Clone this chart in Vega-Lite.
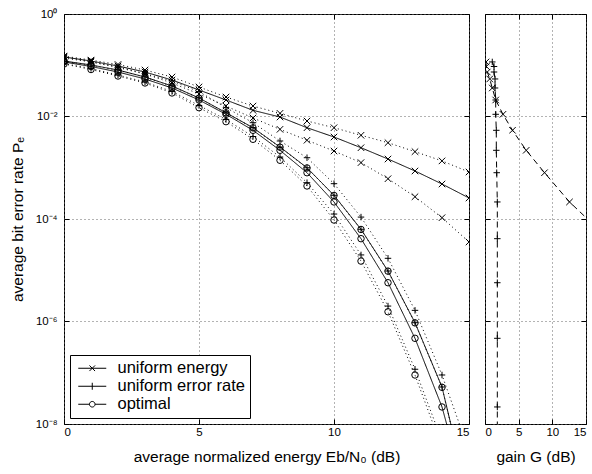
{
 "$schema": "https://vega.github.io/schema/vega-lite/v6.json",
 "padding": {"left": 9, "top": 7, "right": 0, "bottom": 5},
 "background": "white",
 "config": {
  "font": "Liberation Sans",
  "view": {"stroke": "black", "strokeWidth": 1},
  "axis": {"domain": false, "grid": true, "gridColor": "#666", "gridDash": [1, 3], "gridWidth": 1, "tickColor": "black", "tickSize": -5, "labelFont": "Liberation Sans", "labelFontSize": 11.5, "labelColor": "black", "titleFont": "Liberation Sans", "titleFontSize": 15.5, "titleFontWeight": "normal", "titleColor": "black"}
 },
 "datasets": {
  "ber": [
   {"scheme": "uniform energy", "curve": "mean", "x": 0, "p": 0.145},
   {"scheme": "uniform energy", "curve": "mean", "x": 1, "p": 0.121},
   {"scheme": "uniform energy", "curve": "mean", "x": 2, "p": 0.0966},
   {"scheme": "uniform energy", "curve": "mean", "x": 3, "p": 0.0738},
   {"scheme": "uniform energy", "curve": "mean", "x": 4, "p": 0.0515},
   {"scheme": "uniform energy", "curve": "mean", "x": 5, "p": 0.0329},
   {"scheme": "uniform energy", "curve": "mean", "x": 6, "p": 0.021},
   {"scheme": "uniform energy", "curve": "mean", "x": 7, "p": 0.0132},
   {"scheme": "uniform energy", "curve": "mean", "x": 8, "p": 0.00977},
   {"scheme": "uniform energy", "curve": "mean", "x": 9, "p": 0.00604},
   {"scheme": "uniform energy", "curve": "mean", "x": 10, "p": 0.00398},
   {"scheme": "uniform energy", "curve": "mean", "x": 11, "p": 0.00246},
   {"scheme": "uniform energy", "curve": "mean", "x": 12, "p": 0.00148},
   {"scheme": "uniform energy", "curve": "mean", "x": 13, "p": 0.000865},
   {"scheme": "uniform energy", "curve": "mean", "x": 14, "p": 0.000482},
   {"scheme": "uniform energy", "curve": "mean", "x": 15, "p": 0.000257},
   {"scheme": "uniform energy", "curve": "upper", "x": 0, "p": 0.151},
   {"scheme": "uniform energy", "curve": "upper", "x": 1, "p": 0.126},
   {"scheme": "uniform energy", "curve": "upper", "x": 2, "p": 0.1035},
   {"scheme": "uniform energy", "curve": "upper", "x": 3, "p": 0.0807},
   {"scheme": "uniform energy", "curve": "upper", "x": 4, "p": 0.059},
   {"scheme": "uniform energy", "curve": "upper", "x": 5, "p": 0.0377},
   {"scheme": "uniform energy", "curve": "upper", "x": 6, "p": 0.024},
   {"scheme": "uniform energy", "curve": "upper", "x": 7, "p": 0.016},
   {"scheme": "uniform energy", "curve": "upper", "x": 8, "p": 0.01153},
   {"scheme": "uniform energy", "curve": "upper", "x": 9, "p": 0.00817},
   {"scheme": "uniform energy", "curve": "upper", "x": 10, "p": 0.00604},
   {"scheme": "uniform energy", "curve": "upper", "x": 11, "p": 0.0043},
   {"scheme": "uniform energy", "curve": "upper", "x": 12, "p": 0.00308},
   {"scheme": "uniform energy", "curve": "upper", "x": 13, "p": 0.00206},
   {"scheme": "uniform energy", "curve": "upper", "x": 14, "p": 0.00136},
   {"scheme": "uniform energy", "curve": "upper", "x": 15, "p": 0.000826},
   {"scheme": "uniform energy", "curve": "lower", "x": 0, "p": 0.138},
   {"scheme": "uniform energy", "curve": "lower", "x": 1, "p": 0.116},
   {"scheme": "uniform energy", "curve": "lower", "x": 2, "p": 0.0904},
   {"scheme": "uniform energy", "curve": "lower", "x": 3, "p": 0.0675},
   {"scheme": "uniform energy", "curve": "lower", "x": 4, "p": 0.0451},
   {"scheme": "uniform energy", "curve": "lower", "x": 5, "p": 0.0275},
   {"scheme": "uniform energy", "curve": "lower", "x": 6, "p": 0.016},
   {"scheme": "uniform energy", "curve": "lower", "x": 7, "p": 0.00935},
   {"scheme": "uniform energy", "curve": "lower", "x": 8, "p": 0.00562},
   {"scheme": "uniform energy", "curve": "lower", "x": 9, "p": 0.00344},
   {"scheme": "uniform energy", "curve": "lower", "x": 10, "p": 0.00212},
   {"scheme": "uniform energy", "curve": "lower", "x": 11, "p": 0.00126},
   {"scheme": "uniform energy", "curve": "lower", "x": 12, "p": 0.000611},
   {"scheme": "uniform energy", "curve": "lower", "x": 13, "p": 0.000272},
   {"scheme": "uniform energy", "curve": "lower", "x": 14, "p": 0.000106},
   {"scheme": "uniform energy", "curve": "lower", "x": 15, "p": 0.0000356},
   {"scheme": "uniform error rate", "curve": "mean", "x": 0, "p": 0.121},
   {"scheme": "uniform error rate", "curve": "mean", "x": 1, "p": 0.1012},
   {"scheme": "uniform error rate", "curve": "mean", "x": 2, "p": 0.0807},
   {"scheme": "uniform error rate", "curve": "mean", "x": 3, "p": 0.059},
   {"scheme": "uniform error rate", "curve": "mean", "x": 4, "p": 0.0394},
   {"scheme": "uniform error rate", "curve": "mean", "x": 5, "p": 0.023},
   {"scheme": "uniform error rate", "curve": "mean", "x": 6, "p": 0.01186},
   {"scheme": "uniform error rate", "curve": "mean", "x": 7, "p": 0.00604},
   {"scheme": "uniform error rate", "curve": "mean", "x": 8, "p": 0.00254},
   {"scheme": "uniform error rate", "curve": "mean", "x": 9, "p": 0.001},
   {"scheme": "uniform error rate", "curve": "mean", "x": 10, "p": 0.00029},
   {"scheme": "uniform error rate", "curve": "mean", "x": 11, "p": 0.000063},
   {"scheme": "uniform error rate", "curve": "mean", "x": 12, "p": 0.00000966},
   {"scheme": "uniform error rate", "curve": "mean", "x": 13, "p": 0.000000948},
   {"scheme": "uniform error rate", "curve": "mean", "x": 14, "p": 0.0000000527},
   {"scheme": "uniform error rate", "curve": "mean", "x": 15, "p": 0.000000000315},
   {"scheme": "uniform error rate", "curve": "upper", "x": 0, "p": 0.147},
   {"scheme": "uniform error rate", "curve": "upper", "x": 1, "p": 0.117},
   {"scheme": "uniform error rate", "curve": "upper", "x": 2, "p": 0.0925},
   {"scheme": "uniform error rate", "curve": "upper", "x": 3, "p": 0.0684},
   {"scheme": "uniform error rate", "curve": "upper", "x": 4, "p": 0.0493},
   {"scheme": "uniform error rate", "curve": "upper", "x": 5, "p": 0.0305},
   {"scheme": "uniform error rate", "curve": "upper", "x": 6, "p": 0.01486},
   {"scheme": "uniform error rate", "curve": "upper", "x": 7, "p": 0.00757},
   {"scheme": "uniform error rate", "curve": "upper", "x": 8, "p": 0.00333},
   {"scheme": "uniform error rate", "curve": "upper", "x": 9, "p": 0.00157},
   {"scheme": "uniform error rate", "curve": "upper", "x": 10, "p": 0.000489},
   {"scheme": "uniform error rate", "curve": "upper", "x": 11, "p": 0.000109},
   {"scheme": "uniform error rate", "curve": "upper", "x": 12, "p": 0.0000171},
   {"scheme": "uniform error rate", "curve": "upper", "x": 13, "p": 0.00000165},
   {"scheme": "uniform error rate", "curve": "upper", "x": 14, "p": 0.0000000904},
   {"scheme": "uniform error rate", "curve": "upper", "x": 15, "p": 0.00000000297},
   {"scheme": "uniform error rate", "curve": "lower", "x": 0, "p": 0.108},
   {"scheme": "uniform error rate", "curve": "lower", "x": 1, "p": 0.0865},
   {"scheme": "uniform error rate", "curve": "lower", "x": 2, "p": 0.0646},
   {"scheme": "uniform error rate", "curve": "lower", "x": 3, "p": 0.0471},
   {"scheme": "uniform error rate", "curve": "lower", "x": 4, "p": 0.0308},
   {"scheme": "uniform error rate", "curve": "lower", "x": 5, "p": 0.0164},
   {"scheme": "uniform error rate", "curve": "lower", "x": 6, "p": 0.00873},
   {"scheme": "uniform error rate", "curve": "lower", "x": 7, "p": 0.00407},
   {"scheme": "uniform error rate", "curve": "lower", "x": 8, "p": 0.00162},
   {"scheme": "uniform error rate", "curve": "lower", "x": 9, "p": 0.000511},
   {"scheme": "uniform error rate", "curve": "lower", "x": 10, "p": 0.000125},
   {"scheme": "uniform error rate", "curve": "lower", "x": 11, "p": 0.0000199},
   {"scheme": "uniform error rate", "curve": "lower", "x": 12, "p": 0.000002},
   {"scheme": "uniform error rate", "curve": "lower", "x": 13, "p": 0.000000117},
   {"scheme": "uniform error rate", "curve": "lower", "x": 14, "p": 0.00000000466},
   {"scheme": "uniform error rate", "curve": "lower", "x": 15, "p": 0.000000000102},
   {"scheme": "optimal", "curve": "mean", "x": 0, "p": 0.116},
   {"scheme": "optimal", "curve": "mean", "x": 1, "p": 0.0946},
   {"scheme": "optimal", "curve": "mean", "x": 2, "p": 0.0738},
   {"scheme": "optimal", "curve": "mean", "x": 3, "p": 0.054},
   {"scheme": "optimal", "curve": "mean", "x": 4, "p": 0.036},
   {"scheme": "optimal", "curve": "mean", "x": 5, "p": 0.021},
   {"scheme": "optimal", "curve": "mean", "x": 6, "p": 0.01104},
   {"scheme": "optimal", "curve": "mean", "x": 7, "p": 0.00538},
   {"scheme": "optimal", "curve": "mean", "x": 8, "p": 0.00219},
   {"scheme": "optimal", "curve": "mean", "x": 9, "p": 0.0008},
   {"scheme": "optimal", "curve": "mean", "x": 10, "p": 0.000215},
   {"scheme": "optimal", "curve": "mean", "x": 11, "p": 0.0000413},
   {"scheme": "optimal", "curve": "mean", "x": 12, "p": 0.00000571},
   {"scheme": "optimal", "curve": "mean", "x": 13, "p": 0.00000047},
   {"scheme": "optimal", "curve": "mean", "x": 14, "p": 0.0000000215},
   {"scheme": "optimal", "curve": "mean", "x": 15, "p": 0.000000000251},
   {"scheme": "optimal", "curve": "upper", "x": 0, "p": 0.12},
   {"scheme": "optimal", "curve": "upper", "x": 1, "p": 0.1},
   {"scheme": "optimal", "curve": "upper", "x": 2, "p": 0.08},
   {"scheme": "optimal", "curve": "upper", "x": 3, "p": 0.0585},
   {"scheme": "optimal", "curve": "upper", "x": 4, "p": 0.039},
   {"scheme": "optimal", "curve": "upper", "x": 5, "p": 0.0228},
   {"scheme": "optimal", "curve": "upper", "x": 6, "p": 0.0118},
   {"scheme": "optimal", "curve": "upper", "x": 7, "p": 0.006},
   {"scheme": "optimal", "curve": "upper", "x": 8, "p": 0.00252},
   {"scheme": "optimal", "curve": "upper", "x": 9, "p": 0.00099},
   {"scheme": "optimal", "curve": "upper", "x": 10, "p": 0.000288},
   {"scheme": "optimal", "curve": "upper", "x": 11, "p": 0.0000625},
   {"scheme": "optimal", "curve": "upper", "x": 12, "p": 0.0000096},
   {"scheme": "optimal", "curve": "upper", "x": 13, "p": 0.00000094},
   {"scheme": "optimal", "curve": "upper", "x": 14, "p": 0.000000052},
   {"scheme": "optimal", "curve": "upper", "x": 15, "p": 0.00000000031},
   {"scheme": "optimal", "curve": "lower", "x": 0, "p": 0.106},
   {"scheme": "optimal", "curve": "lower", "x": 1, "p": 0.0826},
   {"scheme": "optimal", "curve": "lower", "x": 2, "p": 0.0617},
   {"scheme": "optimal", "curve": "lower", "x": 3, "p": 0.0451},
   {"scheme": "optimal", "curve": "lower", "x": 4, "p": 0.0288},
   {"scheme": "optimal", "curve": "lower", "x": 5, "p": 0.01486},
   {"scheme": "optimal", "curve": "lower", "x": 6, "p": 0.00793},
   {"scheme": "optimal", "curve": "lower", "x": 7, "p": 0.00359},
   {"scheme": "optimal", "curve": "lower", "x": 8, "p": 0.0014},
   {"scheme": "optimal", "curve": "lower", "x": 9, "p": 0.000441},
   {"scheme": "optimal", "curve": "lower", "x": 10, "p": 0.0000955},
   {"scheme": "optimal", "curve": "lower", "x": 11, "p": 0.0000151},
   {"scheme": "optimal", "curve": "lower", "x": 12, "p": 0.00000155},
   {"scheme": "optimal", "curve": "lower", "x": 13, "p": 0.0000000904},
   {"scheme": "optimal", "curve": "lower", "x": 14, "p": 0.0000000034},
   {"scheme": "optimal", "curve": "lower", "x": 15, "p": 0.0000000000817}
  ],
  "gain": [
   {"versus": "uniform energy", "g": 0.15, "p": 0.116},
   {"versus": "uniform energy", "g": 0.2, "p": 0.0946},
   {"versus": "uniform energy", "g": 0.34, "p": 0.0738},
   {"versus": "uniform energy", "g": 0.7, "p": 0.054},
   {"versus": "uniform energy", "g": 1.08, "p": 0.036},
   {"versus": "uniform energy", "g": 1.59, "p": 0.021},
   {"versus": "uniform energy", "g": 2.67, "p": 0.01104},
   {"versus": "uniform energy", "g": 4.08, "p": 0.00538},
   {"versus": "uniform energy", "g": 6.12, "p": 0.00219},
   {"versus": "uniform energy", "g": 8.84, "p": 0.0008},
   {"versus": "uniform energy", "g": 12.55, "p": 0.000215},
   {"versus": "uniform energy", "g": 18.3, "p": 0.0000413},
   {"versus": "uniform error rate", "g": 1.08, "p": 0.116},
   {"versus": "uniform error rate", "g": 1.34, "p": 0.0946},
   {"versus": "uniform error rate", "g": 1.34, "p": 0.0738},
   {"versus": "uniform error rate", "g": 1.49, "p": 0.054},
   {"versus": "uniform error rate", "g": 1.49, "p": 0.036},
   {"versus": "uniform error rate", "g": 1.59, "p": 0.021},
   {"versus": "uniform error rate", "g": 1.59, "p": 0.01104},
   {"versus": "uniform error rate", "g": 1.68, "p": 0.00538},
   {"versus": "uniform error rate", "g": 1.68, "p": 0.00219},
   {"versus": "uniform error rate", "g": 1.74, "p": 0.0008},
   {"versus": "uniform error rate", "g": 1.83, "p": 0.000215},
   {"versus": "uniform error rate", "g": 1.83, "p": 0.0000413},
   {"versus": "uniform error rate", "g": 1.83, "p": 0.00000571},
   {"versus": "uniform error rate", "g": 1.83, "p": 0.00000047},
   {"versus": "uniform error rate", "g": 1.83, "p": 0.0000000215},
   {"versus": "uniform error rate", "g": 1.83, "p": 0.000000000251}
  ]
 },
 "spacing": 14,
 "hconcat": [
  {
   "width": 405,
   "height": 410,
   "data": {"name": "ber"},
   "layer": [
    {
     "mark": {"type": "line", "clip": true, "color": "black", "strokeWidth": 1},
     "encoding": {
      "x": {"field": "x", "type": "quantitative", "scale": {"domain": [0, 15], "nice": false}, "axis": {"values": [0, 5, 10, 15], "title": "average normalized energy Eb/N₀ (dB)", "labelPadding": 7, "titlePadding": 12}},
      "y": {"field": "p", "type": "quantitative", "scale": {"type": "log", "domain": [1e-8, 1], "nice": false}, "axis": {"values": [1e-8, 1e-6, 1e-4, 1e-2, 1], "labelExpr": "datum.value > 0.5 ? '10⁰' : datum.value > 0.005 ? '10⁻²' : datum.value > 0.00005 ? '10⁻⁴' : datum.value > 0.0000005 ? '10⁻⁶' : '10⁻⁸'", "title": "average bit error rate Pₑ", "labelPadding": 12, "titlePadding": 10}},
      "detail": {"field": "scheme", "type": "nominal"},
      "strokeDash": {"field": "curve", "type": "nominal", "scale": {"domain": ["mean", "upper", "lower"], "range": [[1, 0], [1, 3], [1, 3]]}, "legend": null}
     }
    },
    {
     "mark": {"type": "point", "clip": true, "filled": false, "color": "black", "strokeWidth": 1, "size": 42, "opacity": 1},
     "encoding": {
      "x": {"field": "x", "type": "quantitative", "axis": {"orient": "top", "values": [0, 5, 10, 15], "labels": false, "title": null, "grid": false}},
      "y": {"field": "p", "type": "quantitative", "axis": {"orient": "right", "values": [1e-8, 1e-6, 1e-4, 1e-2, 1], "labels": false, "title": null, "grid": false}},
      "shape": {"field": "scheme", "type": "nominal", "scale": {"domain": ["uniform energy", "uniform error rate", "optimal"], "range": ["M-1,-1L1,1M-1,1L1,-1", "M-1,0H1M0,-1V1", "circle"]}, "legend": null}
     }
    },
    {
     "transform": [{"filter": "false"}],
     "mark": {"type": "point", "filled": false, "color": "black", "strokeWidth": 1, "opacity": 1},
     "encoding": {
      "x": {"field": "x", "type": "quantitative", "axis": null},
      "y": {"field": "p", "type": "quantitative", "axis": null},
      "shape": {"field": "scheme", "type": "nominal", "scale": {"domain": ["uniform energy", "uniform error rate", "optimal"], "range": ["M-2,0H2M-0.4,-0.4L0.4,0.4M-0.4,0.4L0.4,-0.4", "M-2,0H2M0,-0.5V0.5", "M-2,0H-0.4M0.4,0H2M-0.4,0A0.4,0.4 0 1 0 0.4,0A0.4,0.4 0 1 0 -0.4,0"]},
       "legend": {"title": null, "orient": "bottom-left", "offset": 6, "strokeColor": "black", "fillColor": "white", "padding": 5, "labelFont": "Liberation Sans", "labelFontSize": 16.5, "labelColor": "black", "symbolSize": 196, "symbolOffset": 9, "symbolStrokeWidth": 1, "symbolStrokeColor": "black", "symbolFillColor": "transparent", "rowPadding": 1, "labelOffset": 17, "cornerRadius": 0}}
     }
    }
   ],
   "resolve": {"scale": {"shape": "independent"}, "legend": {"shape": "independent"}, "axis": {"x": "independent", "y": "independent"}}
  },
  {
   "width": 101,
   "height": 410,
   "data": {"name": "gain"},
   "layer": [
    {
     "mark": {"type": "line", "clip": true, "color": "black", "strokeWidth": 1, "strokeDash": [6, 4]},
     "encoding": {
      "x": {"field": "g", "type": "quantitative", "scale": {"domain": [0, 15], "nice": false}, "axis": {"values": [0, 5, 10, 15], "title": "gain G (dB)", "labelPadding": 7, "titlePadding": 12}},
      "y": {"field": "p", "type": "quantitative", "scale": {"type": "log", "domain": [1e-8, 1], "nice": false}, "axis": {"values": [1e-8, 1e-6, 1e-4, 1e-2, 1], "labels": false, "title": null}},
      "detail": {"field": "versus", "type": "nominal"}
     }
    },
    {
     "mark": {"type": "point", "clip": true, "filled": false, "color": "black", "strokeWidth": 1, "size": 42, "opacity": 1},
     "encoding": {
      "x": {"field": "g", "type": "quantitative", "axis": {"orient": "top", "values": [0, 5, 10, 15], "labels": false, "title": null, "grid": false}},
      "y": {"field": "p", "type": "quantitative", "axis": {"orient": "right", "values": [1e-8, 1e-6, 1e-4, 1e-2, 1], "labels": false, "title": null, "grid": false}},
      "shape": {"field": "versus", "type": "nominal", "scale": {"domain": ["uniform energy", "uniform error rate"], "range": ["M-1,-1L1,1M-1,1L1,-1", "M-1,0H1M0,-1V1"]}, "legend": null}
     }
    }
   ],
   "resolve": {"axis": {"x": "independent", "y": "independent"}}
  }
 ]
}
